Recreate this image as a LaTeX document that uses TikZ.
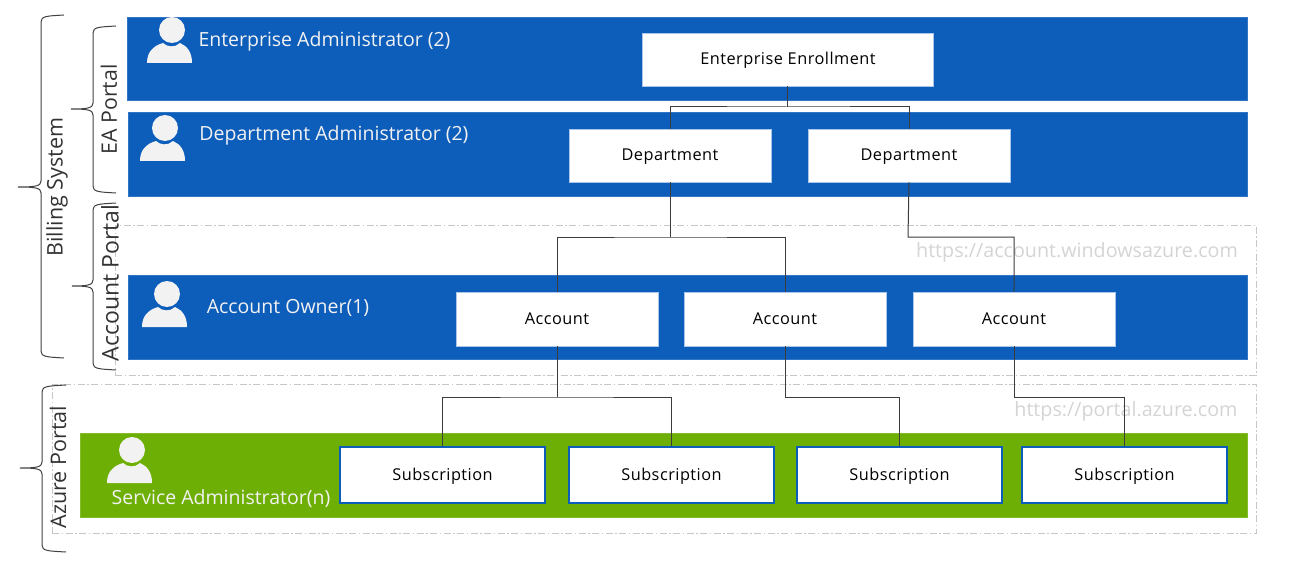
\documentclass[tikz,border=0pt]{standalone}
\usepackage{fontspec}
\setmainfont{Open Sans}
\usetikzlibrary{positioning}

\definecolor{bandblue}{HTML}{0D5DBB}
\definecolor{bandgreen}{HTML}{6EAF05}
\definecolor{iconwhite}{HTML}{F2F2F2}
\definecolor{urlgray}{HTML}{D4D4D4}
\definecolor{linegray}{HTML}{3C3C3C}
\definecolor{boxedge}{HTML}{A9C6EA}

\tikzset{
	band/.style={fill=#1, draw=#1!85!white, line width=0.6pt, inner sep=0pt},
	portalframe/.style={draw=black!22, line width=0.9pt, dash pattern=on 7pt off 2.5pt on 1.5pt off 2.5pt, inner sep=0pt},
	boxtext/.style={inner sep=0pt, text height=12pt, text depth=2pt, font=\fontsize{16.3}{18}\selectfont\addfontfeature{LetterSpace=3}},
	whitebox/.style={boxtext, fill=white, draw=boxedge, line width=0.8pt},
	subbox/.style={boxtext, fill=white, draw=bandblue, line width=1.6pt, minimum width=205pt, minimum height=56pt},
	rolelabel/.style={text=iconwhite, inner sep=0pt, font=\fontsize{19.5}{22}\selectfont},
	sidelabel/.style={rotate=90, text=black!80, inner sep=0pt, font=\fontsize{#1}{24}\selectfont},
	urllabel/.style={text=urlgray, inner sep=0pt, font=\fontsize{19.7}{22}\selectfont},
	link/.style={draw=linegray, line width=1pt},
	curly/.style={draw=black!75, line width=1pt},
	person/.pic={
		\fill[iconwhite] (0,0) circle (13);
		\fill[iconwhite] (-25,33) .. controls (-25,22) and (-19,16) .. (-9,13)
			.. controls (-5,17) and (3,18) .. (8,13)
			.. controls (15,16) and (20,22) .. (20,33) -- cycle;
	}
}
% left brace: right end x, spine x, tip x, top y, middle y, bottom y
\newcommand{\curlybrace}[6]{
	\draw[curly] (#1,#4) .. controls (#2+6,#4+1) and (#2,#4+1) .. (#2,#4+7)
		-- (#2,#5-6) .. controls (#2,#5-1) and (#2-5,#5) .. (#3,#5)
		.. controls (#2-5,#5) and (#2,#5+1) .. (#2,#5+6)
		-- (#2,#6-7) .. controls (#2,#6-1) and (#2+6,#6-1) .. (#1,#6);
}

\begin{document}
\begin{tikzpicture}[x=1pt,y=-1pt]
	\useasboundingbox (0,0) rectangle (1291,567);

	% portal frames
	\node[portalframe, minimum width=1141pt, minimum height=150pt] (accountframe) at (685.5,300) {};
	\node[portalframe, minimum width=1204pt, minimum height=149pt] (azureframe) at (654,458.5) {};

	% bands
	\node[band=bandblue, minimum width=1120pt, minimum height=83pt] (enterpriseband) at (687,58.5) {};
	\node[band=bandblue, minimum width=1119pt, minimum height=84pt] (departmentband) at (687.5,154) {};
	\node[band=bandblue, minimum width=1119pt, minimum height=84pt] (accountband) at (687.5,317) {};
	\node[band=bandgreen, minimum width=1167pt, minimum height=84pt] (serviceband) at (663.5,475) {};

	\node[urllabel] (accounturl) at (1077,252) {https://account.windowsazure.com};
	\node[urllabel] (portalurl) at (1126,411) {https://portal.azure.com};

	% people
	\pic at (172,30) {person};
	\pic at (165,128) {person};
	\pic at (167,294) {person};
	\pic at (132,450) {person};

	\node[rolelabel] (enterpriseadmin) at (324.5,41) {Enterprise Administrator (2)};
	\node[rolelabel] (departmentadmin) at (334,135) {Department Administrator (2)};
	\node[rolelabel] (accountowner) at (288,308) {Account Owner(1)};
	\node[rolelabel] (serviceadmin) at (221,499) {Service Administrator(n)};

	% boxes
	\node[whitebox, minimum width=291pt, minimum height=53pt] (enrollment) at (788,59.5) {Enterprise Enrollment};
	\node[whitebox, minimum width=202pt, minimum height=53pt] (deptA) at (670,155.5) {Department};
	\node[whitebox, minimum width=202pt, minimum height=53pt] (deptB) at (909,155.5) {Department};
	\node[whitebox, minimum width=202pt, minimum height=54pt] (acctA) at (557,319) {Account};
	\node[whitebox, minimum width=202pt, minimum height=54pt] (acctB) at (785,319) {Account};
	\node[whitebox, minimum width=202pt, minimum height=54pt] (acctC) at (1014,319) {Account};
	\node[subbox] (subA) at (442.5,475) {Subscription};
	\node[subbox] (subB) at (671.5,475) {Subscription};
	\node[subbox] (subC) at (899.5,475) {Subscription};
	\node[subbox] (subD) at (1124.5,475) {Subscription};

	% connectors
	\coordinate (busE) at (787,107);
	\coordinate (busD) at (670,237);
	\coordinate (busF) at (908,237);
	\coordinate (busA) at (557,397);
	\coordinate (busB) at (785,397);
	\coordinate (busC) at (1014,397);
	\draw[link] (enrollment.south -| busE) -- (busE);
	\draw[link] (deptA.north) |- (busE) -| (deptB.north);
	\draw[link] (deptA.south) -- (busD);
	\draw[link] (acctA.north) |- (busD) -| (acctB.north);
	\draw[link] (deptB.south) -- (busF) -| (acctC.north);
	\draw[link] (acctA.south) -- (busA);
	\draw[link] (subA.north) |- (busA) -| (subB.north);
	\draw[link] (acctB.south) -- (busB) -| (subC.north);
	\draw[link] (acctC.south) -- (busC) -| (subD.north);

	% braces and their labels
	\curlybrace{64}{41}{18}{15}{187}{358}
	\curlybrace{116}{93}{71}{26}{109}{193}
	\curlybrace{116}{93}{72}{203}{286}{370}
	\curlybrace{66}{42}{20}{385}{468}{552}

	\node[sidelabel=21.5] (billing) at (57,187) {Billing System};
	\node[sidelabel=21.3] (eaportal) at (109,109.5) {EA Portal};
	\node[sidelabel=23] (accountportal) at (110,283) {Account Portal};
	\node[sidelabel=21.5] (azureportal) at (58,467) {Azure Portal};
\end{tikzpicture}
\end{document}
